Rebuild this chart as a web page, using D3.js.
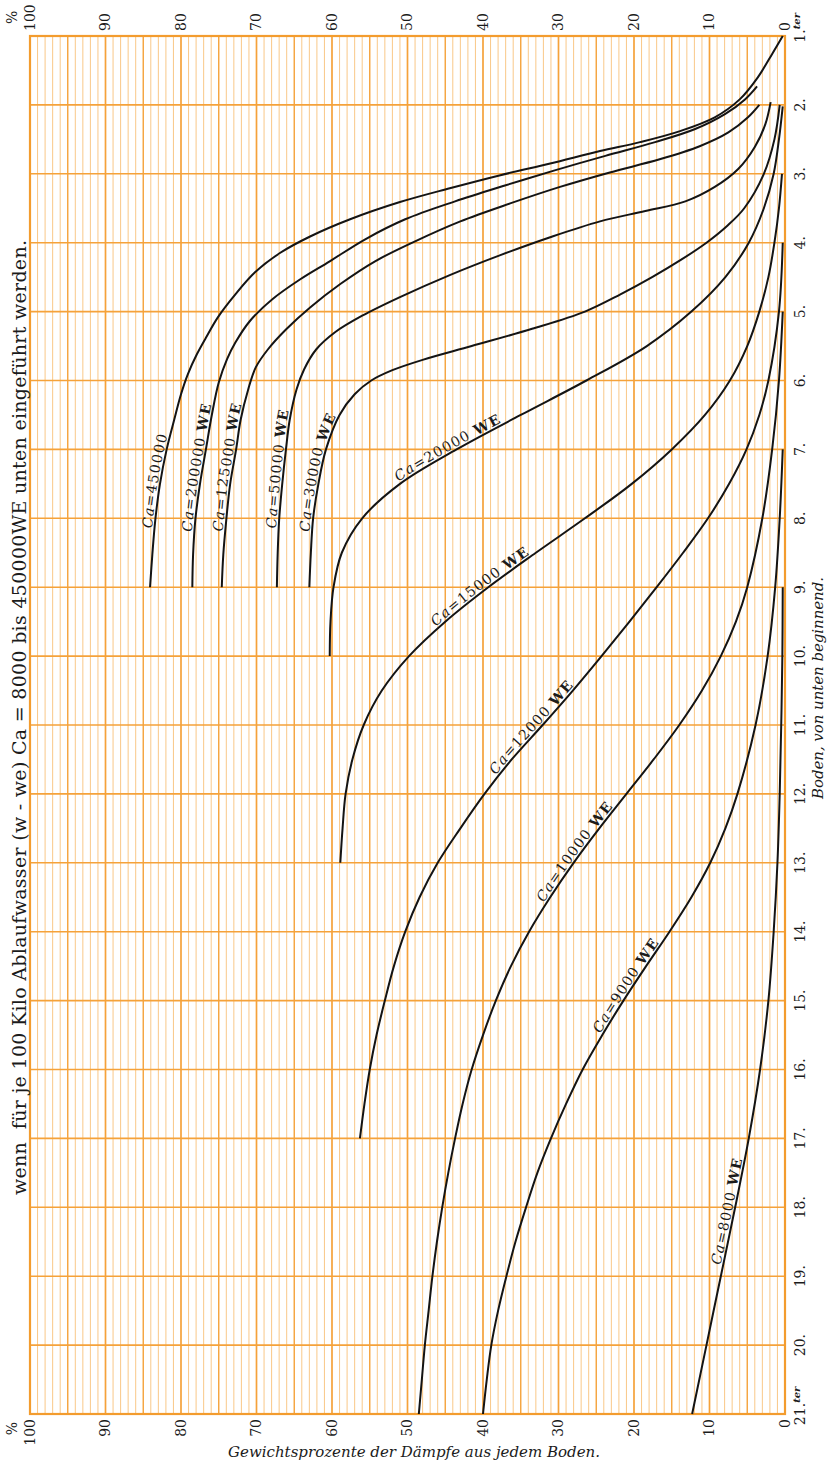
<!DOCTYPE html>
<html>
<head>
<meta charset="utf-8">
<script src="https://cdn.jsdelivr.net/npm/d3@7"></script>
<style>
  body { margin: 0; background: #fff; }
  svg { display: block; background: #fff; }
  text { font-family: "DejaVu Serif", "Liberation Serif", serif; fill: #1b1b1b; }
</style>
</head>
<body>
<svg id="chart"></svg>
<script>
// tick labels
var percentTicks = [100, 90, 80, 70, 60, 50, 40, 30, 20, 10, 0];
var plateTicks = [1, 2, 3, 4, 5, 6, 7, 8, 9, 10, 11, 12, 13, 14, 15, 16, 17, 18, 19, 20, 21];

// series: [Boden (plate), Gewichtsprozent]
var ca450000 = [[1.0,0.3],[1.26,1.7],[1.6,3.6],[1.92,6.0],[2.18,9.3],[2.38,13.9],[2.54,19.2],[2.67,24.5],[2.85,31.1],[3.02,37.7],[3.21,44.4],[3.41,51.0],[3.66,57.6],[3.91,62.9],[4.15,66.9],[4.43,70.2],[4.75,72.8],[5.08,75.1],[5.38,76.7],[5.62,77.9],[5.91,79.1],[6.2,80.0],[6.57,80.9],[7.0,81.9],[7.51,82.8],[8.02,83.4],[8.53,83.8],[9.0,84.1]];
var ca200000 = [[1.73,3.7],[1.92,5.3],[2.13,7.9],[2.35,11.9],[2.54,17.2],[2.74,23.8],[2.95,30.5],[3.17,37.1],[3.4,43.7],[3.66,50.3],[3.95,55.6],[4.27,60.3],[4.53,64.2],[4.82,67.9],[5.14,70.9],[5.45,72.8],[5.69,73.9],[6.03,75.0],[6.49,75.9],[7.0,76.7],[7.51,77.5],[8.02,78.1],[8.53,78.4],[9.0,78.5]];
var ca125000 = [[2.0,3.4],[2.18,4.9],[2.4,7.5],[2.6,11.3],[2.79,16.6],[2.98,23.2],[3.19,29.8],[3.43,36.4],[3.69,43.0],[3.98,49.0],[4.27,54.3],[4.6,58.9],[4.94,62.9],[5.26,66.1],[5.55,68.5],[5.81,70.1],[6.13,71.1],[6.57,72.1],[7.0,72.7],[7.51,73.5],[8.02,74.0],[8.53,74.4],[9.0,74.6]];
var ca50000 = [[1.96,1.9],[2.28,2.6],[2.61,4.0],[2.93,6.2],[3.19,9.3],[3.4,13.2],[3.54,18.5],[3.69,24.5],[3.92,31.1],[4.18,37.7],[4.47,44.4],[4.79,51.0],[5.06,56.0],[5.3,59.6],[5.55,62.1],[5.84,63.7],[6.13,64.7],[6.57,65.6],[7.0,66.1],[7.51,66.6],[8.02,67.0],[8.53,67.2],[9.0,67.3]];
var ca30000 = [[2.0,0.7],[2.5,1.4],[3.0,2.8],[3.5,5.4],[3.75,7.6],[4.0,10.4],[4.25,13.8],[4.5,17.6],[4.75,21.8],[5.0,26.5],[5.25,33.5],[5.5,41.5],[5.7,48.0],[5.85,52.0],[6.0,54.8],[6.2,57.0],[6.5,59.0],[7.0,60.8],[7.5,61.8],[8.0,62.5],[8.5,62.8],[9.0,63.0]];
var ca20000 = [[2.02,0.3],[2.5,0.8],[3.0,1.5],[3.5,2.8],[4.0,4.8],[4.5,7.9],[5.0,12.4],[5.5,18.3],[6.0,26.3],[6.5,35.0],[7.0,43.5],[7.5,51.0],[8.0,56.0],[8.5,58.7],[9.0,59.8],[9.5,60.2],[10.0,60.3]];
var ca15000 = [[3.0,0.4],[3.5,0.8],[4.0,1.4],[4.5,2.2],[5.0,3.4],[5.5,5.0],[6.0,7.3],[6.5,10.6],[7.0,15.0],[7.5,20.3],[8.0,26.5],[8.5,33.0],[9.0,39.3],[9.5,45.0],[10.0,49.8],[10.5,53.4],[11.0,55.8],[11.5,57.3],[12.0,58.2],[12.5,58.6],[13.0,58.9]];
var ca12000 = [[4.0,0.3],[5.0,0.8],[6.0,2.2],[6.5,3.4],[7.0,5.1],[7.5,7.4],[8.0,10.2],[8.5,13.5],[9.0,17.0],[9.5,20.6],[10.0,24.3],[10.5,28.1],[11.0,32.1],[11.5,36.2],[12.0,39.8],[12.5,43.0],[13.0,46.0],[13.5,48.4],[14.0,50.3],[14.5,51.8],[15.0,53.0],[15.5,54.1],[16.0,55.0],[16.5,55.7],[17.0,56.3]];
var ca10000 = [[5.0,0.3],[6.0,0.8],[7.0,1.7],[8.0,3.0],[9.0,5.0],[9.5,6.5],[10.0,8.5],[10.5,11.0],[11.0,14.0],[11.5,17.4],[12.0,21.0],[12.5,24.6],[13.0,28.0],[13.5,31.1],[14.0,33.9],[14.5,36.3],[15.0,38.3],[15.5,40.0],[16.0,41.5],[16.5,42.7],[17.0,43.7],[17.5,44.6],[18.0,45.4],[18.5,46.1],[19.0,46.7],[19.5,47.2],[20.0,47.7],[20.5,48.1],[21.0,48.5]];
var ca9000 = [[7.0,0.3],[8.0,0.7],[9.0,1.3],[10.0,2.3],[11.0,3.9],[12.0,6.3],[12.5,7.9],[13.0,9.9],[13.5,12.4],[14.0,15.3],[14.5,18.4],[15.0,21.4],[15.5,24.2],[16.0,26.8],[16.5,29.0],[17.0,31.0],[17.5,32.8],[18.0,34.3],[18.5,35.7],[19.0,36.9],[19.5,38.0],[20.0,38.9],[20.5,39.5],[21.0,40.0]];
var ca8000 = [[9.0,0.3],[10.0,0.35],[11.0,0.5],[12.0,0.7],[13.0,1.0],[14.0,1.5],[15.0,2.2],[16.0,3.3],[17.0,4.8],[18.0,6.6],[19.0,8.5],[20.0,10.4],[21.0,12.3]];

var curves = [ca450000, ca200000, ca125000, ca50000, ca30000, ca20000, ca15000, ca12000, ca10000, ca9000, ca8000];
var caValues = [450000, 200000, 125000, 50000, 30000, 20000, 15000, 12000, 10000, 9000, 8000];
var caWithWE = [false, true, true, true, true, true, true, true, true, true, true];
var labelPlate = [8.15, 8.2, 8.2, 8.15, 8.2, 7.5, 9.6, 11.75, 13.6, 15.5, 18.85]; // where each label begins

var width = 832, height = 1466;

var svg = d3.select("#chart")
    .attr("width", width)
    .attr("height", height);

var x = d3.scaleLinear().domain([100, 0]).range([30, 785]);
var y = d3.scaleLinear().domain([1, 21]).range([36, 1414]);

// grid paper
var grid = svg.append("g");
var minor = d3.range(1, 100).filter(function(v) { return v % 5 !== 0; });
var major = d3.range(5, 100, 5);

grid.selectAll(".minor")
  .data(minor)
  .enter().append("line")
    .attr("x1", d => x(d)).attr("x2", d => x(d))
    .attr("y1", y(1)).attr("y2", y(21))
    .attr("stroke", "#f8c27a")
    .attr("stroke-width", 0.9);

grid.selectAll(".major")
  .data(major)
  .enter().append("line")
    .attr("x1", d => x(d)).attr("x2", d => x(d))
    .attr("y1", y(1)).attr("y2", y(21))
    .attr("stroke", "#f5a23a")
    .attr("stroke-width", d => d % 10 === 0 ? 1.7 : 1.4);

grid.selectAll(".plate")
  .data(plateTicks.slice(1, -1))
  .enter().append("line")
    .attr("x1", x(100)).attr("x2", x(0))
    .attr("y1", d => y(d)).attr("y2", d => y(d))
    .attr("stroke", "#f5a23a")
    .attr("stroke-width", 1.6);

grid.append("rect")
    .attr("x", x(100)).attr("y", y(1))
    .attr("width", x(0) - x(100)).attr("height", y(21) - y(1))
    .attr("fill", "none")
    .attr("stroke", "#f39c2e")
    .attr("stroke-width", 2.2);

// curves
var line = d3.line()
    .x(d => x(d[1]))
    .y(d => y(d[0]))
    .curve(d3.curveCatmullRom.alpha(0.5));

svg.append("g").selectAll("path")
  .data(curves)
  .enter().append("path")
    .attr("d", line)
    .attr("fill", "none")
    .attr("stroke", "#141414")
    .attr("stroke-width", 2);

// curve labels along each curve, reading upward
curves.forEach(function(pts, i) {
    var rev = pts.slice().reverse();
    var p = svg.append("path")
        .attr("id", "lp" + i)
        .attr("d", line(rev))
        .attr("fill", "none")
        .attr("stroke", "none");
    var node = p.node();
    var target = y(labelPlate[i]);
    var lo = 0, hi = node.getTotalLength();
    for (var k = 0; k < 30; k++) {
        var mid = (lo + hi) / 2;
        if (node.getPointAtLength(mid).y > target) lo = mid; else hi = mid;
    }
    var tp = svg.append("text")
        .attr("font-size", 14)
        .attr("letter-spacing", 1.2)
      .append("textPath")
        .attr("href", "#lp" + i)
        .attr("startOffset", lo);
    tp.append("tspan").attr("dy", -2.5).attr("font-style", "italic").text("Ca");
    tp.append("tspan").text("=" + caValues[i] + (caWithWE[i] ? " " : ""));
    if (caWithWE[i]) tp.append("tspan").attr("font-weight", "bold").text("WE");
});

// percent tick labels, top and bottom
svg.append("g").selectAll("text")
  .data(percentTicks)
  .enter().append("text")
    .attr("transform", d => "translate(" + x(d) + ",31) rotate(-90)")
    .attr("dy", "0.35em")
    .attr("font-size", 14)
    .text(d => d);

svg.append("g").selectAll("text")
  .data(percentTicks)
  .enter().append("text")
    .attr("transform", d => "translate(" + x(d) + ",1419) rotate(-90)")
    .attr("dy", "0.35em")
    .attr("text-anchor", "end")
    .attr("font-size", 14)
    .text(d => d);

svg.append("text")
    .attr("transform", "translate(12,24) rotate(-90)")
    .attr("dy", "0.35em").attr("font-size", 14).text("%");
svg.append("text")
    .attr("transform", "translate(12,1422) rotate(-90)")
    .attr("dy", "0.35em").attr("text-anchor", "end").attr("font-size", 14).text("%");

// plate labels on the right
plateTicks.forEach(function(p) {
    var t = svg.append("text")
        .attr("dy", "0.35em")
        .attr("font-size", 14);
    var num = t.append("tspan").text(p + ".");
    var w = num.node().getComputedTextLength();
    if (p === 1 || p === 21) {
        t.append("tspan")
            .attr("font-style", "italic")
            .attr("font-weight", "bold")
            .attr("font-size", 10)
            .attr("dy", "-0.45em")
            .text("ter");
    }
    t.attr("transform", "translate(800," + (y(p) + w / 2) + ") rotate(-90)");
});

svg.append("text")
    .attr("transform", "translate(818,688) rotate(-90)")
    .attr("dy", "0.35em")
    .attr("text-anchor", "middle")
    .attr("font-size", 14)
    .attr("font-style", "italic")
    .attr("textLength", 222)
    .attr("lengthAdjust", "spacingAndGlyphs")
    .text("Boden, von unten beginnend.");

svg.append("text")
    .attr("x", 414).attr("y", 1457)
    .attr("text-anchor", "middle")
    .attr("font-size", 14)
    .attr("font-style", "italic")
    .attr("textLength", 372)
    .attr("lengthAdjust", "spacingAndGlyphs")
    .text("Gewichtsprozente der Dämpfe aus jedem Boden.");

// title down the left edge
svg.append("text")
    .attr("transform", "translate(19,1195) rotate(-90)")
    .attr("dy", "0.35em")
    .attr("font-size", 19)
    .attr("textLength", 955)
    .attr("lengthAdjust", "spacing")
    .style("white-space", "pre")
    .text("wenn  für je 100 Kilo Ablaufwasser (w - we) Ca = 8000 bis 450000WE unten eingeführt werden.");
</script>
</body>
</html>
